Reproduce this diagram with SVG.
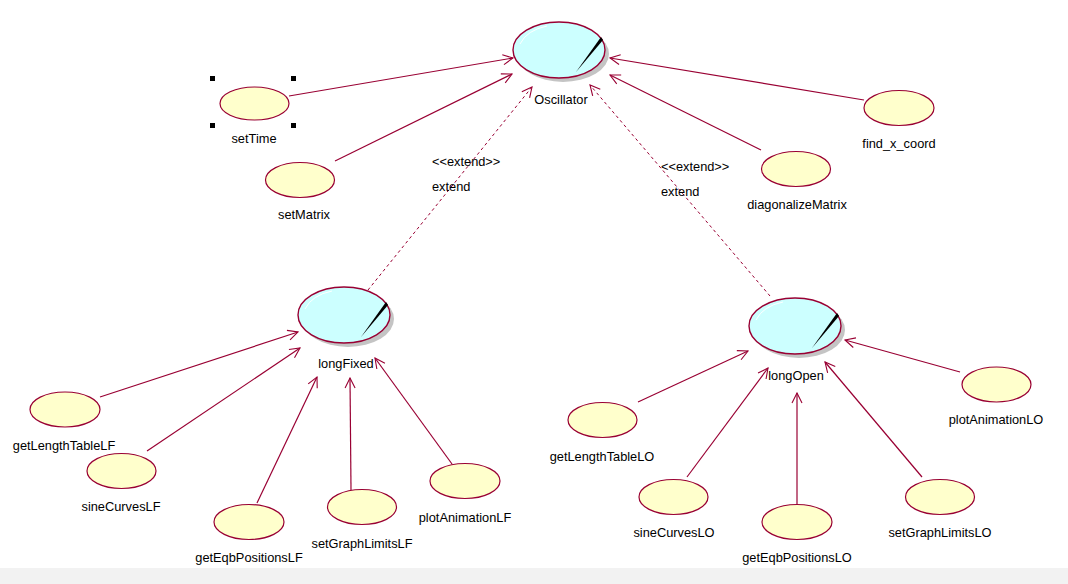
<svg xmlns="http://www.w3.org/2000/svg" width="1068" height="584" viewBox="0 0 1068 584">
  <defs>
    <style>
      .uc { fill: #FFFFCC; stroke: #990033; stroke-width: 1.2; }
      .main { fill: #CCFFFF; stroke: #990033; stroke-width: 1.4; }
      .shadow { fill: #C4C4C4; }
      .hl { fill: none; stroke: #FFFFFF; stroke-width: 1; }
      .wedge { fill: #000000; }
      .lbl { font-family: "Liberation Sans", Arial, sans-serif; font-size: 12.8px; fill: #000000; text-anchor: middle; }
      .tag { font-family: "Liberation Sans", Arial, sans-serif; font-size: 12.8px; fill: #000000; }
      .assoc { stroke: #990033; stroke-width: 1.2; fill: none; marker-end: url(#open); }
      .ext { stroke: #990033; stroke-width: 1; fill: none; stroke-dasharray: 3 3; marker-end: url(#open); }
      .handle { fill: #000000; }
    </style>
    <marker id="open" markerWidth="12" markerHeight="12" refX="11" refY="6" orient="auto" markerUnits="userSpaceOnUse">
      <path d="M1,1 L11,6 L1,11" fill="none" stroke="#990033" stroke-width="1.1"/>
    </marker>
    <!-- class-style use case: shadow, body, highlight and black wedge -->
    <g id="bigUC">
      <ellipse class="shadow" cx="4" cy="4" rx="46" ry="28"/>
      <ellipse class="main" cx="0" cy="0" rx="46" ry="28"/>
      <path class="hl" d="M-39,-6 Q-32,-20 -12,-24"/>
      <polygon class="wedge" points="42,-13 44,-10 17,22"/>
    </g>
  </defs>

  <rect x="0" y="0" width="1068" height="584" fill="#FFFFFF"/>
  <rect x="0" y="568" width="1068" height="16" fill="#F2F2F2"/>

  <g id="connectors">
    <line class="assoc" x1="289" y1="96" x2="513" y2="58"/>
    <line class="assoc" x1="335" y1="161" x2="512" y2="74"/>
    <line class="assoc" x1="864" y1="100" x2="610" y2="58"/>
    <line class="assoc" x1="761" y1="150" x2="610" y2="75"/>
    <line class="ext" x1="368" y1="290" x2="532" y2="87"/>
    <line class="ext" x1="770" y1="296" x2="590" y2="85"/>
    <line class="assoc" x1="100" y1="397" x2="298" y2="332"/>
    <line class="assoc" x1="147" y1="451" x2="300" y2="348"/>
    <line class="assoc" x1="257" y1="503" x2="317" y2="377"/>
    <line class="assoc" x1="351" y1="490" x2="350" y2="378"/>
    <line class="assoc" x1="452" y1="464" x2="375" y2="358"/>
    <line class="assoc" x1="638" y1="402" x2="748" y2="351"/>
    <line class="assoc" x1="687" y1="477" x2="768" y2="368"/>
    <line class="assoc" x1="797" y1="504" x2="797" y2="393"/>
    <line class="assoc" x1="922" y1="477" x2="825" y2="362"/>
    <line class="assoc" x1="960" y1="372" x2="845" y2="340"/>
    <text class="tag" x="432" y="166">&lt;&lt;extend&gt;&gt;</text>
    <text class="tag" x="432" y="191">extend</text>
    <text class="tag" x="661" y="171">&lt;&lt;extend&gt;&gt;</text>
    <text class="tag" x="661" y="196">extend</text>
  </g>

  <g id="Oscillator">
    <use href="#bigUC" x="559" y="50"/>
    <text class="lbl" x="561" y="104">Oscillator</text>
  </g>
  <g id="longFixed">
    <use href="#bigUC" x="344" y="315"/>
    <text class="lbl" x="346" y="368">longFixed</text>
  </g>
  <g id="longOpen">
    <use href="#bigUC" x="795" y="326"/>
    <text class="lbl" x="796" y="380">longOpen</text>
  </g>

  <g id="setTime">
    <ellipse class="uc" cx="254.5" cy="103.5" rx="34.5" ry="16.5"/>
    <rect class="handle" x="210" y="76" width="5" height="5"/>
    <rect class="handle" x="291" y="76" width="5" height="5"/>
    <rect class="handle" x="210" y="123" width="5" height="5"/>
    <rect class="handle" x="291" y="123" width="5" height="5"/>
    <text class="lbl" x="254" y="143">setTime</text>
  </g>
  <g id="setMatrix">
    <ellipse class="uc" cx="300" cy="180" rx="34.5" ry="17.5"/>
    <text class="lbl" x="304" y="219">setMatrix</text>
  </g>
  <g id="find_x_coord">
    <ellipse class="uc" cx="899" cy="108" rx="35" ry="17.5"/>
    <text class="lbl" x="899" y="148">find_x_coord</text>
  </g>
  <g id="diagonalizeMatrix">
    <ellipse class="uc" cx="796" cy="169" rx="34.5" ry="17.5"/>
    <text class="lbl" x="797" y="209">diagonalizeMatrix</text>
  </g>

  <g id="getLengthTableLF">
    <ellipse class="uc" cx="65" cy="409.5" rx="35" ry="17.5"/>
    <text class="lbl" x="64" y="450">getLengthTableLF</text>
  </g>
  <g id="sineCurvesLF">
    <ellipse class="uc" cx="121.5" cy="471" rx="34.5" ry="17.5"/>
    <text class="lbl" x="121" y="511">sineCurvesLF</text>
  </g>
  <g id="getEqbPositionsLF">
    <ellipse class="uc" cx="249" cy="522" rx="35" ry="17.5"/>
    <text class="lbl" x="249" y="562">getEqbPositionsLF</text>
  </g>
  <g id="setGraphLimitsLF">
    <ellipse class="uc" cx="362" cy="507" rx="34.5" ry="17.5"/>
    <text class="lbl" x="362" y="548">setGraphLimitsLF</text>
  </g>
  <g id="plotAnimationLF">
    <ellipse class="uc" cx="465" cy="481" rx="35" ry="17.5"/>
    <text class="lbl" x="465" y="522">plotAnimationLF</text>
  </g>

  <g id="getLengthTableLO">
    <ellipse class="uc" cx="602.5" cy="420" rx="34.5" ry="17.5"/>
    <text class="lbl" x="602" y="461">getLengthTableLO</text>
  </g>
  <g id="sineCurvesLO">
    <ellipse class="uc" cx="673.5" cy="497" rx="34.5" ry="17.5"/>
    <text class="lbl" x="674" y="537">sineCurvesLO</text>
  </g>
  <g id="getEqbPositionsLO">
    <ellipse class="uc" cx="797" cy="522" rx="35" ry="17.5"/>
    <text class="lbl" x="797" y="562">getEqbPositionsLO</text>
  </g>
  <g id="setGraphLimitsLO">
    <ellipse class="uc" cx="940" cy="497" rx="34.5" ry="17.5"/>
    <text class="lbl" x="940" y="537">setGraphLimitsLO</text>
  </g>
  <g id="plotAnimationLO">
    <ellipse class="uc" cx="996.5" cy="384.5" rx="34.5" ry="17.5"/>
    <text class="lbl" x="996" y="424">plotAnimationLO</text>
  </g>
</svg>
